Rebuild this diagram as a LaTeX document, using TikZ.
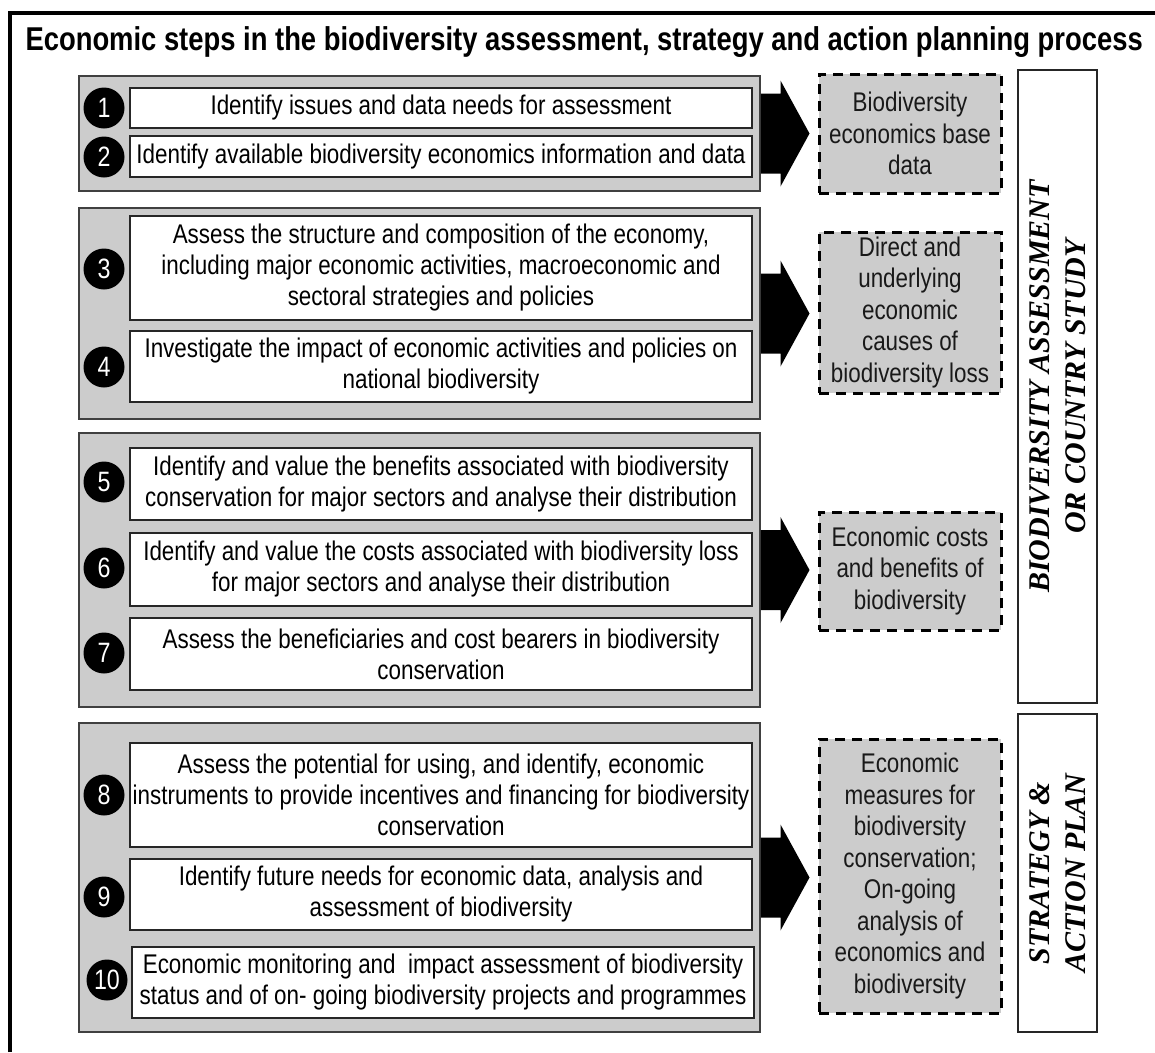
\documentclass[tikz,border=0pt]{standalone}
\usepackage{fontspec}
\setmainfont{Liberation Sans}[FakeStretch=0.83]
\newfontfamily\timesfont{Liberation Serif}
\usetikzlibrary{calc}

\tikzset{
  grupo/.style={draw=black!75, line width=1.5pt, fill=gray!40, minimum width=681pt, inner sep=0pt},
  paso/.style={draw=black!85, line width=1.5pt, fill=white, minimum width=622pt, align=center,
    inner sep=0pt, font=\fontsize{27}{31}\selectfont},
  numero/.style={circle, fill=black, text=white, minimum size=41pt, inner sep=0pt,
    font=\fontsize{28}{31}\selectfont},
  salida/.style={draw, dash pattern=on 10pt off 7pt, line width=3pt, fill=gray!40, minimum width=182pt,
    align=center, inner sep=0pt, text=black!90, font=\fontsize{27}{31.5}\selectfont},
  fase/.style={draw=black!85, line width=2pt, fill=white, rotate=90, minimum height=79pt, align=center,
    inner sep=0pt, font=\timesfont\bfseries\itshape\fontsize{30}{36}\selectfont},
}

% flecha gruesa de un grupo a su resultado
\newcommand{\flecha}[2]{%
  \fill let \p1=(#1.east), \p2=(#2.west) in
    (\x1,\y1+40pt) -- (\x2-37pt,\y1+40pt) -- (\x2-37pt,\y1+53pt) -- (\x2-8pt,\y1)
    -- (\x2-37pt,\y1-53pt) -- (\x2-37pt,\y1-40pt) -- (\x1,\y1-40pt) -- cycle;}

\begin{document}
\begin{tikzpicture}[x=1pt, y=-1pt]
  \useasboundingbox (0,0) rectangle (1155,1052);

  % Marco
  \draw[line width=3.5pt] (10,1052) -- (10,13) -- (1155,13);

  % Título
  \node[anchor=base west, font=\bfseries\fontsize{33}{38}\selectfont] (titulo) at (22,50)
    {Economic steps in the biodiversity assessment, strategy and action planning process};

  % Grupos
  \node[grupo, minimum height=115pt] (g1) at (419.5,133.5) {};
  \node[grupo, minimum height=211pt] (g2) at (419.5,313.5) {};
  \node[grupo, minimum height=274pt] (g3) at (419.5,570) {};
  \node[grupo, minimum height=309pt] (g4) at (419.5,877.5) {};

  % Pasos
  \node[paso, minimum height=40pt] (s1) at (441,108) {Identify issues and data needs for assessment};
  \node[paso, minimum height=41pt] (s2) at (441,156.5) {Identify available biodiversity economics information and data};
  \node[paso, minimum height=104pt] (s3) at (441,268) {Assess the structure and composition of the economy,\\
    including major economic activities, macroeconomic and\\ sectoral strategies and policies};
  \node[paso, minimum height=71pt] (s4) at (441,366.5) {Investigate the impact of economic activities and policies on\\
    national biodiversity};
  \node[paso, minimum height=72pt] (s5) at (441,484) {Identify and value the benefits associated with biodiversity\\
    conservation for major sectors and analyse their distribution};
  \node[paso, minimum height=73pt] (s6) at (441,569.5) {Identify and value the costs associated with biodiversity loss\\
    for major sectors and analyse their distribution};
  \node[paso, minimum height=72pt] (s7) at (441,654) {Assess the beneficiaries and cost bearers in biodiversity\\
    conservation};
  \node[paso, minimum height=104pt] (s8) at (441,795) {Assess the potential for using, and identify, economic\\
    instruments to provide incentives and financing for biodiversity\\ conservation};
  \node[paso, minimum height=71pt] (s9) at (441,894.5) {Identify future needs for economic data, analysis and\\
    assessment of biodiversity};
  \node[paso, minimum height=71pt] (s10) at (443,982.5) {Economic monitoring and~ impact assessment of biodiversity\\
    status and of on- going biodiversity projects and programmes};

  % Números
  \node[numero] (n1) at (104,108) {1};
  \node[numero] (n2) at (104,157) {2};
  \node[numero] (n3) at (104,269) {3};
  \node[numero] (n4) at (104,367) {4};
  \node[numero] (n5) at (104,482) {5};
  \node[numero] (n6) at (104,568) {6};
  \node[numero] (n7) at (104,653) {7};
  \node[numero] (n8) at (104,795) {8};
  \node[numero] (n9) at (104,897) {9};
  \node[numero] (n10) at (107,980) {10};

  % Resultados
  \node[salida, minimum height=119pt] (o1) at (910,133.5) {Biodiversity\\ economics base\\ data};
  \node[salida, minimum height=161pt] (o2) at (910,312.5) {Direct and\\ underlying\\ economic\\ causes of\\ biodiversity loss};
  \node[salida, minimum height=118pt] (o3) at (910,571) {Economic costs\\ and benefits of\\ biodiversity};
  \node[salida, minimum height=274pt] (o4) at (910,876) {Economic\\ measures for\\ biodiversity\\ conservation;\\
    On-going\\ analysis of\\ economics and\\ biodiversity};

  % Fases
  \node[fase, minimum width=633pt] (p1) at (1057.5,386.5) {BIODIVERSITY ASSESSMENT\\ OR COUNTRY STUDY};
  \node[fase, minimum width=318pt] (p2) at (1057.5,873) {STRATEGY \&\\ ACTION PLAN};

  % Flechas
  \flecha{g1}{o1}
  \flecha{g2}{o2}
  \flecha{g3}{o3}
  \flecha{g4}{o4}
\end{tikzpicture}
\end{document}
